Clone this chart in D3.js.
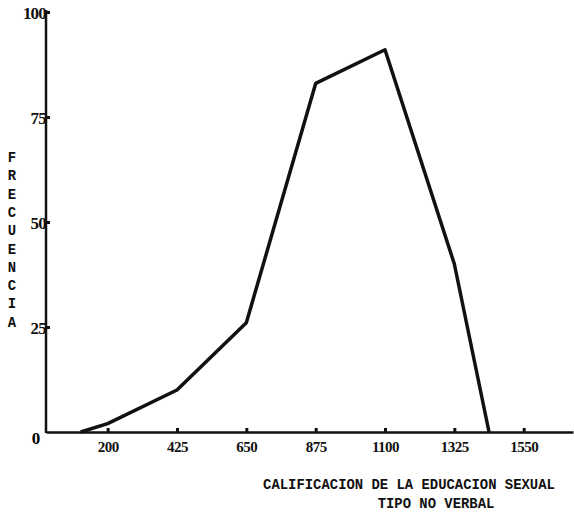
<!doctype html>
<html>
<head>
    <style>
        body { margin: 0; background: #fff; }
        .tick text { font-family: "Liberation Serif", serif; font-size: 15px; font-weight: bold; fill: #111; letter-spacing: -0.5px; }
        .ejey .tick text { font-size: 17px; letter-spacing: -0.8px; }
        .axis path, .axis line { stroke: #111; }
        .title { font-family: "Liberation Mono", monospace; font-weight: bold; font-size: 13.9px; fill: #111; }
    </style>
    <script src="https://d3js.org/d3.v7.min.js"></script>
</head>
<body>
<svg id="svg1" width="574" height="517"></svg>
<script>

    // puntos del poligono de frecuencias
    var puntaje = [112.5, 200, 425, 650, 875, 1100, 1325, 1437.5];
    var frecuencia = [0, 2, 10, 26, 83, 91, 40, 0];
    var xTicks = [200, 425, 650, 875, 1100, 1325, 1550];
    var yTicks = [0, 25, 50, 75, 100];
    var yLetras = "FRECUENCIA".split("");

    var svg = d3.select("#svg1");

    var xScale = d3.scaleLinear().domain([0, 1710]).range([46, 573]),
        yScale = d3.scaleLinear().domain([0, 100]).range([432, 12]);

    // eje x
    var gx = svg.append("g")
        .attr("class", "axis")
        .attr("transform", "translate(0," + yScale(0) + ")")
        .call(d3.axisBottom(xScale).tickValues(xTicks).tickFormat(d3.format("d"))
              .tickSizeInner(-4).tickSizeOuter(0).tickPadding(9));
    gx.select(".domain").attr("stroke-width", 2.5);
    gx.selectAll(".tick line").attr("stroke-width", 3);

    // eje y
    var gy = svg.append("g")
        .attr("class", "axis ejey")
        .attr("transform", "translate(" + xScale(0) + ",0)")
        .call(d3.axisLeft(yScale).tickValues(yTicks.slice(1)).tickFormat(d3.format("d"))
              .tickSizeInner(-4).tickSizeOuter(0).tickPadding(0));
    gy.select(".domain").attr("stroke-width", 2.5).attr("d", "M0," + (yScale(0) + 1) + "V" + (yScale(100) - 2));
    gy.selectAll(".tick line").attr("stroke-width", 3);
    gy.selectAll(".tick text").attr("dy", "0.38em");

    // cero aparte, abajo a la izquierda
    svg.append("text")
       .attr("x", xScale(0) - 10)
       .attr("y", yScale(0) + 6)
       .attr("dy", "0.35em")
       .attr("text-anchor", "middle")
       .attr("font-family", "Liberation Serif, serif")
       .attr("font-weight", "bold")
       .attr("font-size", "17px")
       .text(yTicks[0]);

    // linea
    var line = d3.line()
        .x(function(d, i) { return xScale(puntaje[i]); })
        .y(function(d) { return yScale(d); });

    svg.append("path")
       .datum(frecuencia)
       .attr("fill", "none")
       .attr("stroke", "#111")
       .attr("stroke-width", 3.5)
       .attr("stroke-linejoin", "round")
       .attr("d", line);

    // titulo eje y, letras apiladas
    svg.selectAll(".letra")
       .data(yLetras)
       .enter().append("text")
       .attr("class", "title")
       .attr("x", 12)
       .attr("y", function(d, i) { return 162 + i * 18.3; })
       .attr("text-anchor", "middle")
       .text(function(d) { return d; });

    // titulo eje x
    svg.append("text")
       .attr("class", "title")
       .attr("x", 409)
       .attr("y", 489)
       .attr("text-anchor", "middle")
       .text("CALIFICACION DE LA EDUCACION SEXUAL");

    svg.append("text")
       .attr("class", "title")
       .attr("x", 436)
       .attr("y", 508)
       .attr("text-anchor", "middle")
       .text("TIPO NO VERBAL");

</script>
</body>
</html>
